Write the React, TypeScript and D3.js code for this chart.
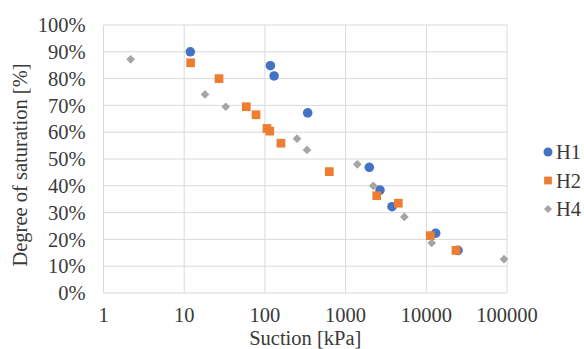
import { useEffect, useRef } from "react";
import * as d3 from "d3";

// Suction [kPa] vs degree of saturation [%]
const h1Suction = [11.9, 117, 130, 339, 1967, 2670, 3760, 13070, 24700];
const h1Saturation = [90, 84.8, 81, 67.2, 46.9, 38.4, 32.2, 22.3, 15.9];

const h2Suction = [12, 27, 58.8, 77.6, 106, 115, 158, 628, 2430, 4500, 11210, 23340];
const h2Saturation = [85.9, 80, 69.5, 66.5, 61.4, 60.4, 55.9, 45.3, 36.3, 33.5, 21.4, 15.9];

const h4Suction = [2.17, 18.1, 32.7, 250, 332, 1397, 2204, 5340, 11670, 91800];
const h4Saturation = [87.2, 74.1, 69.5, 57.6, 53.4, 48, 40, 28.4, 18.7, 12.6];

const xTicks = [1, 10, 100, 1000, 10000, 100000];
const yTicks = [0, 10, 20, 30, 40, 50, 60, 70, 80, 90, 100];

const seriesNames = ["H1", "H2", "H4"];
const colors = ["#4472C4", "#ED7D31", "#A5A5A5"];

export default function App() {
  const svgRef = useRef<SVGSVGElement>(null);

  useEffect(() => {
    if (!svgRef.current) return;
    const svg = d3.select(svgRef.current);
    svg.selectAll("*").remove();

    const width = 584;
    const height = 349;
    const margin = { top: 25, right: 77, bottom: 56, left: 103.5 };
    const textColor = "#3a3a3a";

    const x = d3
      .scaleLog()
      .domain([1, 100000])
      .range([margin.left, width - margin.right]);
    const y = d3
      .scaleLinear()
      .domain([0, 100])
      .range([height - margin.bottom, margin.top]);

    // gridlines
    const grid = svg.append("g");
    grid
      .selectAll(".hg")
      .data(yTicks)
      .enter()
      .append("line")
      .attr("x1", x(1))
      .attr("x2", x(100000))
      .attr("y1", (d) => y(d))
      .attr("y2", (d) => y(d))
      .attr("stroke", "#d9d9d9")
      .attr("stroke-width", 1);
    grid
      .selectAll(".vg")
      .data(xTicks)
      .enter()
      .append("line")
      .attr("x1", (d) => x(d))
      .attr("x2", (d) => x(d))
      .attr("y1", y(0))
      .attr("y2", y(100))
      .attr("stroke", "#d9d9d9")
      .attr("stroke-width", 1);

    const labels = svg
      .append("g")
      .attr("font-family", "Liberation Serif, Times New Roman, serif")
      .attr("font-size", 20.5)
      .attr("fill", textColor);

    // tick labels
    labels
      .append("g")
      .selectAll("text")
      .data(yTicks)
      .enter()
      .append("text")
      .attr("x", margin.left - 18)
      .attr("y", (d) => y(d))
      .attr("dy", "0.35em")
      .attr("text-anchor", "end")
      .text((d) => `${d}%`);

    labels
      .append("g")
      .selectAll("text")
      .data(xTicks)
      .enter()
      .append("text")
      .attr("x", (d) => x(d))
      .attr("y", y(0) + 29)
      .attr("text-anchor", "middle")
      .text((d) => String(d));

    // axis titles
    labels
      .append("text")
      .attr("transform", `translate(27, ${(y(0) + y(100)) / 2 + 6}) rotate(-90)`)
      .attr("text-anchor", "middle")
      .text("Degree of saturation [%]");

    labels
      .append("text")
      .attr("x", (x(1) + x(100000)) / 2)
      .attr("y", 345)
      .attr("text-anchor", "middle")
      .text("Suction [kPa]");

    const series = [
      { s: h1Suction, v: h1Saturation, shape: d3.symbolCircle, size: 72, rot: 0 },
      { s: h2Suction, v: h2Saturation, shape: d3.symbolSquare, size: 76, rot: 0 },
      { s: h4Suction, v: h4Saturation, shape: d3.symbolSquare, size: 38, rot: 45 },
    ];

    series.forEach((ser, i) => {
      const pts = ser.s.map((s, j) => ({ s, v: ser.v[j] }));
      svg
        .append("g")
        .selectAll("path")
        .data(pts)
        .enter()
        .append("path")
        .attr("transform", (d) => `translate(${x(d.s)},${y(d.v)}) rotate(${ser.rot})`)
        .attr("d", d3.symbol().type(ser.shape).size(ser.size)() as string)
        .attr("fill", colors[i]);
    });

    // legend
    const legendSizes = [64, 60, 32];
    seriesNames.forEach((name, i) => {
      const ly = 152 + i * 28.5;
      svg
        .append("path")
        .attr("transform", `translate(548,${ly}) rotate(${series[i].rot})`)
        .attr("d", d3.symbol().type(series[i].shape).size(legendSizes[i])() as string)
        .attr("fill", colors[i]);
      labels
        .append("text")
        .attr("x", 556)
        .attr("y", ly)
        .attr("dy", "0.35em")
        .text(name);
    });
  }, []);

  return (
    <div style={{ position: "absolute", left: 0, top: 0 }}>
      <svg ref={svgRef} width={584} height={349} style={{ display: "block", background: "#fff" }} />
    </div>
  );
}
